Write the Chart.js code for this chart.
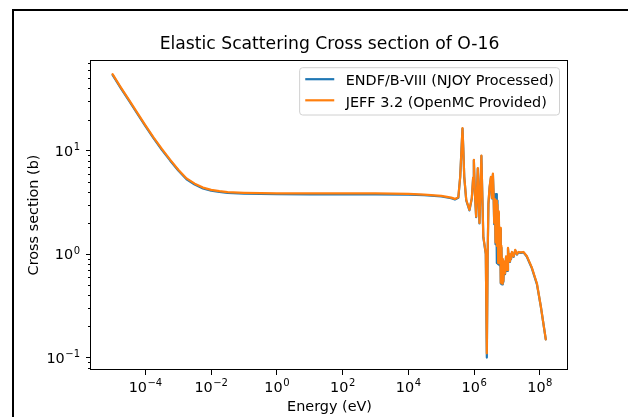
<!DOCTYPE html>
<html><head><meta charset="utf-8">
<script src="https://cdn.jsdelivr.net/npm/chart.js@4"></script>
<style>
html,body{margin:0;padding:0;background:#fff;}
#wrap{position:relative;width:628px;height:417px;overflow:hidden;background:#fff;}
canvas{position:absolute;left:0;top:0;}
#frame{position:absolute;left:12px;top:9px;width:800px;height:600px;border:2px solid #000;pointer-events:none;}
</style></head><body>
<div id="wrap"><canvas id="c" width="628" height="417"></canvas><div id="frame"></div></div>
<script>
const energy = [
 1e-5, 1.78e-5, 3.16e-5, 5.62e-5, 1e-4, 1.78e-4, 3.16e-4, 5.62e-4, 1e-3, 1.78e-3, 3.16e-3, 5.62e-3,
 1e-2, 1.78e-2, 3.16e-2, 0.1, 0.316, 1,
 10, 100, 1e3, 1e4, 3e4, 1e5, 2e5, 2.6e5,
 3.3e5, 3.76e5, 4.1e5, 4.42e5, 4.7e5, 5.0e5, 5.75e5, 7.2e5,
 8.5e5, 9.3e5, 9.8e5, 1.05e6,
 1.15e6, 1.29e6, 1.45e6, 1.66e6, 1.9e6, 2.26e6, 2.43e6, 2.57e6, 2.72e6, 2.95e6, 3.24e6,
 3.47e6, 3.72e6, 3.89e6, 4.07e6, 4.27e6, 4.47e6, 4.68e6, 4.9e6, 5.13e6, 5.37e6, 5.62e6,
 5.89e6, 6.17e6, 6.46e6, 6.76e6, 7.08e6, 7.41e6, 7.76e6, 8.13e6, 8.71e6, 9.33e6, 1.0e7,
 1.07e7, 1.15e7, 1.23e7, 1.32e7, 1.41e7, 1.58e7, 1.78e7, 2.0e7, 2.24e7, 2.63e7, 3.16e7,
 3.98e7, 5.62e7, 8.13e7, 1.07e8, 1.51e8
];
const xsEndf = [
 54, 40.3, 30.5, 22.9, 17.3, 13.15, 10.2, 8.05, 6.43, 5.3, 4.71, 4.32,
 4.1, 3.99, 3.91, 3.85, 3.82, 3.80,
 3.79, 3.79, 3.79, 3.77, 3.72, 3.61, 3.47, 3.37,
 3.5, 5.55, 10, 16.4, 10, 5.55, 3.3, 2.65,
 3.45, 5.4, 8.1, 3.95,
 2.28, 6.7, 1.98, 8.9, 1.46, 1.0, 0.10, 0.93, 3.05, 4.4, 5.5,
 3.45, 5.9, 3.9, 1.95, 3.8, 1.25, 3.8, 0.82, 3.3, 0.8, 2.5,
 0.78, 1.75, 0.52, 1.15, 0.51, 0.88, 0.54, 0.84, 0.64, 0.94, 0.69,
 1.13, 0.84, 0.99, 0.89, 1.04, 0.94, 1.09, 0.99, 1.04, 1.03, 1.04,
 0.95, 0.74, 0.51, 0.31, 0.15
];
const xsJeff = [
 55, 41, 31, 23.3, 17.6, 13.4, 10.4, 8.2, 6.55, 5.4, 4.8, 4.4,
 4.18, 4.06, 3.98, 3.92, 3.89, 3.87,
 3.86, 3.86, 3.86, 3.83, 3.77, 3.66, 3.52, 3.42,
 3.55, 5.6, 10, 16.5, 10, 5.6, 3.35, 2.68,
 3.5, 5.5, 8.15, 4.0,
 2.3, 6.8, 2.0, 8.95, 1.48, 1.02, 0.11, 0.95, 3.1, 4.5, 5.6,
 3.5, 6.0, 4.0, 2.0, 3.4, 1.3, 3.3, 1.2, 3.0, 0.82, 2.6,
 1.0, 1.8, 0.53, 1.2, 0.52, 0.9, 0.55, 0.85, 0.65, 0.95, 0.7,
 1.15, 0.85, 1.0, 0.9, 1.05, 0.95, 1.1, 1.0, 1.05, 1.04, 1.05,
 0.96, 0.75, 0.52, 0.31, 0.15
];
const seriesLabels = ['ENDF/B-VIII (NJOY Processed)', 'JEFF 3.2 (OpenMC Provided)'];
const seriesColors = ['#1f77b4', '#ff7f0e'];
const xTicks = [1e-4, 1e-2, 1, 1e2, 1e4, 1e6, 1e8];
const xTickLabels = ['10^−4', '10^−2', '10^0', '10^2', '10^4', '10^6', '10^8'];
const yTicks = [0.1, 1, 10];
const yTickLabels = ['10^−1', '10^0', '10^1'];
const yMinorTicks = [0.08, 0.09, 0.2, 0.3, 0.4, 0.5, 0.6, 0.7, 0.8, 0.9, 2, 3, 4, 5, 6, 7, 8, 9, 20, 30, 40, 50, 60, 70];
const titleText = 'Elastic Scattering Cross section of O-16';
const xTitle = 'Energy (eV)';
const yTitle = 'Cross section (b)';
const FONT = '"DejaVu Sans", "Liberation Sans", sans-serif';
const MAINF = '14.4px ' + FONT;
const SUPF = '10px ' + FONT;

function drawPow(ctx, label, x, y, align) {
  const [base, exp] = label.split('^');
  ctx.font = MAINF; const w1 = ctx.measureText(base).width;
  ctx.font = SUPF; const w2 = ctx.measureText(exp).width;
  const tot = w1 + w2 + 0.5;
  const x0 = align === 'center' ? x - tot / 2 : x - tot;
  ctx.textAlign = 'left';
  ctx.textBaseline = 'alphabetic';
  ctx.font = MAINF; ctx.fillText(base, x0, y);
  ctx.font = SUPF; ctx.fillText(exp, x0 + w1 + 0.5, y - 5.8);
}

const decor = {
  id: 'decor',
  afterDraw(chart) {
    const {ctx, chartArea: a, scales: {x, y}} = chart;
    ctx.save();
    ctx.fillStyle = '#000';
    // title
    ctx.font = '17.2px ' + FONT;
    ctx.textAlign = 'center';
    ctx.textBaseline = 'alphabetic';
    ctx.fillText(titleText, (a.left + a.right) / 2, a.top - 10.6);
    // tick labels
    xTicks.forEach((v, i) => drawPow(ctx, xTickLabels[i], x.getPixelForValue(v), a.bottom + 21.7, 'center'));
    yTicks.forEach((v, i) => drawPow(ctx, yTickLabels[i], a.left - 11, y.getPixelForValue(v) + 5.3, 'right'));
    // axes frame
    ctx.strokeStyle = '#000';
    ctx.lineWidth = 1;
    ctx.strokeRect(Math.round(a.left) - 0.5, Math.round(a.top) + 0.5, Math.round(a.right) - Math.round(a.left), Math.round(a.bottom) - Math.round(a.top) - 1);
    // minor y ticks
    ctx.beginPath();
    yMinorTicks.forEach(v => {
      const p = y.getPixelForValue(v);
      if (p >= a.top && p <= a.bottom) {
        ctx.moveTo(a.left - 3, Math.round(p) + 0.5);
        ctx.lineTo(a.left, Math.round(p) + 0.5);
      }
    });
    ctx.stroke();
    // legend
    ctx.font = MAINF;
    const tw = Math.max(...seriesLabels.map(t => ctx.measureText(t).width));
    const pad = 5.6, hl = 29, htp = 11.5;
    const w = pad + hl + htp + tw + pad;
    const h = 47.3;
    const x1 = a.right - 8.5 - w, y1 = a.top + 7.7;
    const r = 3;
    ctx.beginPath();
    ctx.moveTo(x1 + r, y1);
    ctx.lineTo(x1 + w - r, y1);
    ctx.arcTo(x1 + w, y1, x1 + w, y1 + r, r);
    ctx.lineTo(x1 + w, y1 + h - r);
    ctx.arcTo(x1 + w, y1 + h, x1 + w - r, y1 + h, r);
    ctx.lineTo(x1 + r, y1 + h);
    ctx.arcTo(x1, y1 + h, x1, y1 + h - r, r);
    ctx.lineTo(x1, y1 + r);
    ctx.arcTo(x1, y1, x1 + r, y1, r);
    ctx.closePath();
    ctx.fillStyle = 'rgba(255,255,255,0.8)';
    ctx.fill();
    ctx.strokeStyle = '#d0d0d0';
    ctx.stroke();
    const rows = [y1 + 11.5, y1 + 32.6];
    seriesLabels.forEach((t, i) => {
      ctx.strokeStyle = seriesColors[i];
      ctx.lineWidth = 2.2;
      ctx.beginPath();
      ctx.moveTo(x1 + pad, rows[i]);
      ctx.lineTo(x1 + pad + hl, rows[i]);
      ctx.stroke();
      ctx.fillStyle = '#000';
      ctx.textBaseline = 'alphabetic';
      ctx.textAlign = 'left';
      ctx.fillText(t, x1 + pad + hl + htp, rows[i] + 6.2);
    });
    ctx.restore();
  }
};

const ds = (vals, i, order) => ({
  label: seriesLabels[i],
  data: energy.map((e, k) => ({x: e, y: vals[k]})),
  borderColor: seriesColors[i],
  backgroundColor: seriesColors[i],
  borderWidth: 2.2,
  pointRadius: 0,
  tension: 0,
  fill: false,
  borderJoinStyle: 'round',
  borderCapStyle: 'round',
  order: order
});

new Chart(document.getElementById('c'), {
  type: 'line',
  data: { datasets: [ds(xsEndf, 0, 1), ds(xsJeff, 1, 0)] },
  plugins: [decor],
  options: {
    responsive: false,
    animation: false,
    devicePixelRatio: 1,
    layout: { padding: { left: 0, right: 60, top: 60, bottom: 0 } },
    plugins: {
      legend: { display: false },
      tooltip: { enabled: false },
      title: { display: false }
    },
    scales: {
      x: {
        type: 'logarithmic',
        min: 2.21e-6, max: 7.16e8,
        afterFit(s) { s.height = 47; },
        afterBuildTicks(s) { s.ticks = xTicks.map(v => ({value: v})); },
        grid: { drawOnChartArea: false, drawTicks: true, tickLength: 5, tickColor: '#000', tickWidth: 1 },
        border: { display: false },
        ticks: { display: false, autoSkip: false, maxRotation: 0 },
        title: { display: true, text: xTitle, color: '#000', font: { family: FONT, size: 14.4 }, padding: { top: 0, bottom: 1.4 } }
      },
      y: {
        type: 'logarithmic',
        min: 0.0759, max: 75.3,
        afterFit(s) { s.width = 91; },
        afterBuildTicks(s) { s.ticks = yTicks.map(v => ({value: v})); },
        grid: { drawOnChartArea: false, drawTicks: true, tickLength: 5, tickColor: '#000', tickWidth: 1 },
        border: { display: false },
        ticks: { display: false, autoSkip: false },
        title: { display: true, text: yTitle, color: '#000', font: { family: FONT, size: 14.4 }, padding: { top: 25.4, bottom: 0 } }
      }
    }
  }
});
</script>
</body></html>
